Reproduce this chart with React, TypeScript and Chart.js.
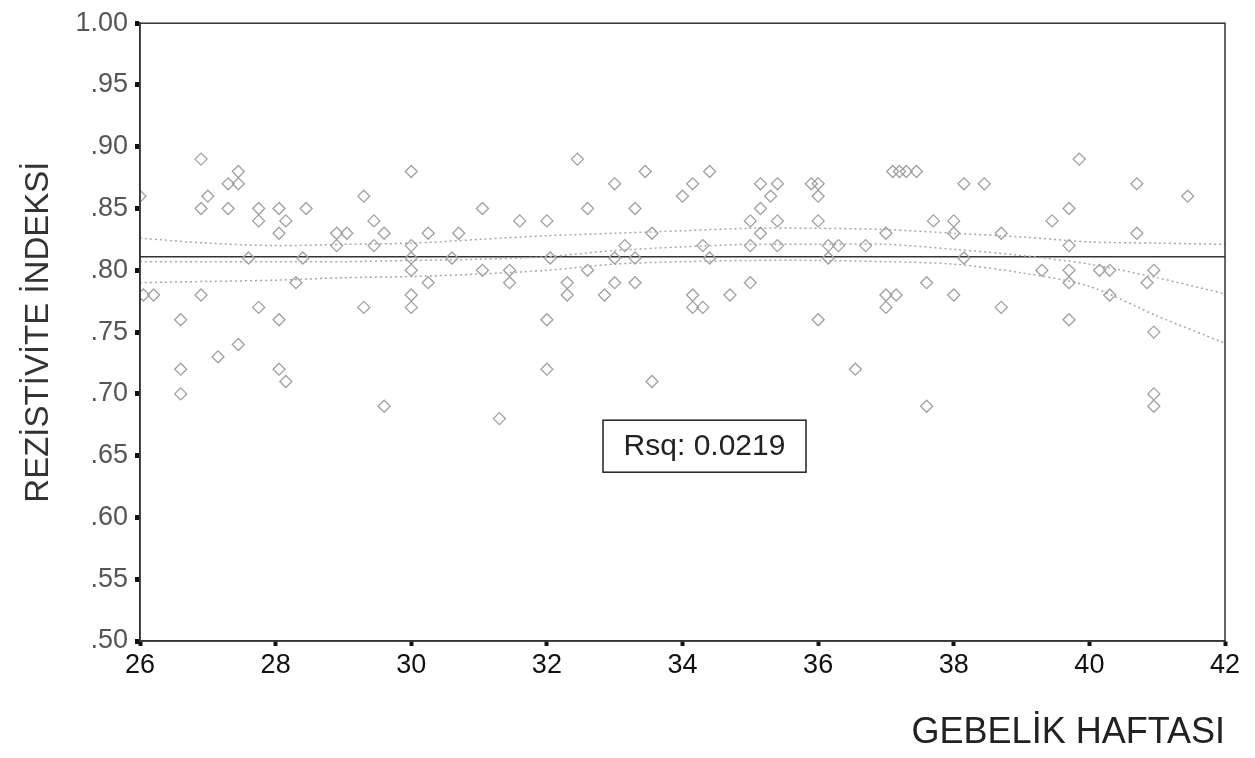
import React, { useEffect, useRef } from 'react';
import { Chart, registerables } from 'chart.js';

Chart.register(...registerables);

// Gestational week (x) of each observation
const weeks = [
  26.0, 26.9, 27.45, 27.3, 27.45, 27.0, 26.9, 27.3, 27.75, 28.05, 28.45, 27.75, 28.15, 28.05, 28.9, 29.05,
  28.9, 29.45, 29.6, 29.3, 29.45, 30.0, 30.0, 30.0, 30.0, 30.0, 30.0, 27.6, 28.4, 28.3, 30.25, 30.25,
  26.05, 26.2, 26.9, 26.6, 27.75, 28.05, 29.3, 27.45, 27.15, 26.6, 28.05, 28.15, 26.6, 29.6,
  32.45, 33.45, 34.4, 33.0, 34.15, 34.0, 31.05, 32.6, 33.3, 31.6, 32.0, 30.7, 33.55, 33.15, 34.3, 30.6,
  32.05, 33.0, 33.3, 34.4, 31.05, 31.45, 32.6, 31.45, 32.3, 33.0, 33.3, 32.3, 32.85, 34.15, 34.15, 34.3,
  32.0, 32.0, 33.55, 31.3,
  37.1, 37.2, 37.3, 37.45, 35.15, 35.4, 35.9, 36.0, 38.15, 38.45, 35.3, 36.0, 35.15, 35.0, 35.4, 36.0,
  37.7, 38.0, 35.15, 37.0, 38.0, 38.7, 35.0, 35.4, 36.15, 36.3, 36.7, 36.15, 38.15, 35.0, 37.6, 34.7,
  37.0, 37.15, 38.0, 37.0, 38.7, 36.0, 36.55, 37.6,
  39.85, 40.7, 41.45, 39.7, 39.45, 40.7, 39.7, 39.3, 39.7, 40.15, 40.3, 40.95, 39.7, 40.85, 40.3, 39.7,
  40.95, 40.95, 40.95,
];

// Resistivity index (y) of each observation
const riValues = [
  0.86, 0.89, 0.88, 0.87, 0.87, 0.86, 0.85, 0.85, 0.85, 0.85, 0.85, 0.84, 0.84, 0.83, 0.83, 0.83,
  0.82, 0.84, 0.83, 0.86, 0.82, 0.88, 0.82, 0.81, 0.80, 0.78, 0.77, 0.81, 0.81, 0.79, 0.83, 0.79,
  0.78, 0.78, 0.78, 0.76, 0.77, 0.76, 0.77, 0.74, 0.73, 0.72, 0.72, 0.71, 0.70, 0.69,
  0.89, 0.88, 0.88, 0.87, 0.87, 0.86, 0.85, 0.85, 0.85, 0.84, 0.84, 0.83, 0.83, 0.82, 0.82, 0.81,
  0.81, 0.81, 0.81, 0.81, 0.80, 0.80, 0.80, 0.79, 0.79, 0.79, 0.79, 0.78, 0.78, 0.78, 0.77, 0.77,
  0.76, 0.72, 0.71, 0.68,
  0.88, 0.88, 0.88, 0.88, 0.87, 0.87, 0.87, 0.87, 0.87, 0.87, 0.86, 0.86, 0.85, 0.84, 0.84, 0.84,
  0.84, 0.84, 0.83, 0.83, 0.83, 0.83, 0.82, 0.82, 0.82, 0.82, 0.82, 0.81, 0.81, 0.79, 0.79, 0.78,
  0.78, 0.78, 0.78, 0.77, 0.77, 0.76, 0.72, 0.69,
  0.89, 0.87, 0.86, 0.85, 0.84, 0.83, 0.82, 0.80, 0.80, 0.80, 0.80, 0.80, 0.79, 0.79, 0.78, 0.76,
  0.75, 0.70, 0.69,
];

// Fitted line (solid)
const fitWeeks = [26, 42];
const fitValues = [0.811, 0.811];

// Confidence band curves (dotted)
const bandWeeks = [26, 27, 28, 29, 30, 31, 32, 33, 34, 35, 36, 37, 38, 39, 40, 41, 42];
const bandUpperOuter = [0.826, 0.822, 0.820, 0.821, 0.822, 0.825, 0.828, 0.830, 0.832, 0.834, 0.834, 0.833, 0.830, 0.827, 0.823, 0.822, 0.821];
const bandUpperInner = [0.807, 0.807, 0.807, 0.807, 0.808, 0.809, 0.811, 0.816, 0.819, 0.821, 0.821, 0.821, 0.817, 0.812, 0.805, 0.794, 0.781];
const bandLower = [0.790, 0.791, 0.792, 0.794, 0.795, 0.797, 0.800, 0.805, 0.807, 0.808, 0.808, 0.807, 0.805, 0.798, 0.787, 0.763, 0.741];

// Axis ticks
const xTicks = [26, 28, 30, 32, 34, 36, 38, 40, 42];
const yTicks = [0.5, 0.55, 0.6, 0.65, 0.7, 0.75, 0.8, 0.85, 0.9, 0.95, 1.0];
const yTickLabels = ['.50', '.55', '.60', '.65', '.70', '.75', '.80', '.85', '.90', '.95', '1.00'];

const xTitle = 'GEBELİK HAFTASI';
const yTitle = 'REZİSTİVİTE İNDEKSİ';
const rsqLabel = 'Rsq: 0.0219';

const FONT = '"Liberation Sans", Arial, Helvetica, sans-serif';

const toXY = (xs: number[], ys: number[]) => xs.map((x, i) => ({ x, y: ys[i] }));

const framePlugin = {
  id: 'frameAndRsq',
  afterDatasetsDraw(chart: any) {
    const { ctx, chartArea } = chart;
    ctx.save();
    ctx.strokeStyle = '#333';
    ctx.lineWidth = 1.5;
    ctx.strokeRect(chartArea.left, chartArea.top, chartArea.right - chartArea.left, chartArea.bottom - chartArea.top);

    const bx = chartArea.left + 463;
    const by = chartArea.top + 397;
    const bw = 203;
    const bh = 52;
    ctx.fillStyle = '#fff';
    ctx.fillRect(bx, by, bw, bh);
    ctx.strokeStyle = '#222';
    ctx.lineWidth = 1.5;
    ctx.strokeRect(bx, by, bw, bh);
    ctx.font = `30px ${FONT}`;
    ctx.fillStyle = '#222';
    ctx.textAlign = 'center';
    ctx.textBaseline = 'middle';
    ctx.fillText(rsqLabel, bx + bw / 2, by + bh / 2 + 1);
    ctx.restore();
  },
};

export default function App() {
  const ref = useRef<HTMLCanvasElement>(null);

  useEffect(() => {
    if (!ref.current) return;
    const dotted = (data: number[]) => ({
      type: 'line' as const,
      data: toXY(bandWeeks, data),
      borderColor: '#a8a8a8',
      borderWidth: 1.5,
      borderDash: [2, 3],
      pointRadius: 0,
      fill: false,
      tension: 0.3,
    });
    const chart = new Chart(ref.current, {
      type: 'scatter',
      data: {
        datasets: [
          {
            type: 'scatter',
            data: toXY(weeks, riValues),
            pointStyle: 'rectRot',
            pointRadius: 6,
            borderColor: '#a0a0a0',
            borderWidth: 1.3,
            backgroundColor: 'rgba(0,0,0,0)',
          } as any,
          dotted(bandUpperOuter),
          dotted(bandUpperInner),
          dotted(bandLower),
          {
            type: 'line',
            data: toXY(fitWeeks, fitValues),
            borderColor: '#333',
            borderWidth: 1.5,
            pointRadius: 0,
            fill: false,
          },
        ],
      },
      options: {
        responsive: false,
        animation: false,
        layout: { padding: { left: 0, top: 16, right: 30, bottom: 0 } },
        plugins: {
          legend: { display: false },
          tooltip: { enabled: false },
        },
        scales: {
          x: {
            type: 'linear',
            min: 26,
            max: 42,
            afterBuildTicks: (scale: any) => {
              scale.ticks = xTicks.map((v) => ({ value: v }));
            },
            afterFit: (scale: any) => {
              scale.height = 117;
            },
            grid: {
              drawOnChartArea: false,
              drawTicks: true,
              tickLength: 5,
              tickWidth: 4,
              tickColor: '#111',
            },
            border: { display: true, color: '#333', width: 1.5 },
            ticks: {
              autoSkip: false,
              maxRotation: 0,
              padding: 3,
              color: '#111',
              font: { family: FONT, size: 27 },
              callback: (v: any) => String(v),
            },
            title: {
              display: true,
              text: xTitle,
              align: 'end',
              color: '#222',
              font: { family: FONT, size: 36 },
              padding: { top: 0, bottom: 3 },
            },
          },
          y: {
            type: 'linear',
            min: 0.5,
            max: 1.0,
            afterBuildTicks: (scale: any) => {
              scale.ticks = yTicks.map((v) => ({ value: v }));
            },
            afterFit: (scale: any) => {
              scale.width = 140;
            },
            grid: {
              drawOnChartArea: false,
              drawTicks: true,
              tickLength: 5,
              tickWidth: 5,
              tickColor: '#111',
            },
            border: { display: true, color: '#333', width: 1.5 },
            ticks: {
              autoSkip: false,
              padding: 7,
              color: '#555',
              font: { family: FONT, size: 27 },
              callback: (v: any) => {
                const i = yTicks.findIndex((t) => Math.abs(t - Number(v)) < 1e-6);
                return i >= 0 ? yTickLabels[i] : '';
              },
            },
            title: {
              display: true,
              text: yTitle,
              color: '#333',
              font: { family: FONT, size: 33 },
              padding: { top: 19, bottom: 0 },
            },
          },
        },
      },
      plugins: [framePlugin],
    } as any);
    return () => chart.destroy();
  }, []);

  return (
    <div style={{ position: 'fixed', left: 0, top: 0, width: 1255, height: 758, background: '#fff' }}>
      <canvas ref={ref} width={1255} height={758} style={{ width: 1255, height: 758, display: 'block' }} />
    </div>
  );
}
